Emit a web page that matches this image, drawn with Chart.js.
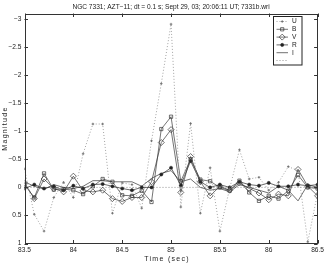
<!DOCTYPE html>
<html><head><meta charset="utf-8">
<script src="https://cdn.jsdelivr.net/npm/chart.js@4.4.1/dist/chart.umd.min.js"></script>
<style>html,body{margin:0;padding:0;background:#fff}canvas{display:block}</style>
</head><body>
<canvas id="c" width="327" height="263"></canvas>
<script>
const titleText = 'NGC 7331; AZT\u221211; dt = 0.1 s; Sept 29, 03; 20:06:11 UT; 7331b.wri';
const xTitle = 'Time (sec)';
const yTitle = 'Magnitude';
const times = [83.5,83.6,83.7,83.8,83.9,84.0,84.1,84.2,84.3,84.4,84.5,84.6,84.7,84.8,84.9,85.0,85.1,85.2,85.3,85.4,85.5,85.6,85.7,85.8,85.9,86.0,86.1,86.2,86.3,86.4,86.5];
const U = [-0.33,0.48,0.78,0.18,-0.09,0.18,-0.6,-1.13,-1.13,0.46,-0.08,-0.05,0.37,-0.83,-1.85,-2.91,0.35,-1.14,0.46,-0.35,0.78,0.02,-0.67,-0.15,-0.18,0.05,-0.09,-0.37,-0.3,0.97,0.1];
const B = [-0.05,0.18,-0.25,0.04,0.03,0.05,0.12,-0.02,-0.15,-0.1,0.14,0.15,0.06,0.26,-1.04,-1.26,-0.11,-0.5,-0.14,-0.11,0.0,0.06,-0.12,0.09,0.24,0.15,0.2,0.06,-0.22,0.0,0.02];
const V = [-0.08,0.2,-0.15,0.02,0.08,-0.2,0.06,0.08,0.05,0.2,0.25,0.18,0.18,-0.1,-0.8,-1.03,0.09,-0.55,-0.1,0.15,-0.02,0.05,-0.08,0.02,0.1,0.22,0.12,0.15,-0.32,-0.02,0.15];
const R = [0.02,-0.05,0.02,-0.02,0.05,-0.03,0.02,-0.05,-0.06,-0.02,0.02,0.05,0.0,0.0,-0.23,-0.35,-0.04,-0.47,-0.1,0.0,-0.05,0.0,-0.1,-0.05,-0.03,-0.08,-0.02,-0.02,-0.05,-0.03,-0.05];
const I = [-0.1,-0.02,0.03,-0.05,0.0,0.02,-0.02,-0.12,-0.12,-0.1,-0.1,-0.1,-0.02,-0.16,-0.25,-0.3,-0.1,-0.15,0.0,0.05,0.02,0.08,-0.05,0.0,0.05,0.1,-0.02,0.05,0.24,-0.05,0.0];
const baselineX = [83.5, 86.5];
const baselineY = [0, 0];
const seriesNames = ['U','B','V','R','I',''];
const xTicks = [83.5,84,84.5,85,85.5,86,86.5];
const yTicks = [-3,-2.5,-2,-1.5,-1,-0.5,0,0.5,1];

const FONT = '"Liberation Sans", Arial, Helvetica, sans-serif';
const pts = arr => times.map((t,i)=>({x:t,y:arr[i]}));
const fmt = v => (v<0 ? '\u2212' : '') + String(Math.abs(v));

const datasets = [
  {label:seriesNames[0], data:pts(U), borderColor:'#999', borderWidth:0.9, borderDash:[1,2], pointStyle:'cross', pointRadius:1.3, pointBorderColor:'#666', pointBorderWidth:0.8, pointBackgroundColor:'#666'},
  {label:seriesNames[1], data:pts(B), borderColor:'#3a3a3a', borderWidth:0.7, pointStyle:'rect', pointRadius:2.3, pointBorderColor:'#333', pointBorderWidth:0.7, pointBackgroundColor:'rgba(0,0,0,0)'},
  {label:seriesNames[2], data:pts(V), borderColor:'#3a3a3a', borderWidth:0.7, pointStyle:'rectRot', pointRadius:3, pointBorderColor:'#333', pointBorderWidth:0.7, pointBackgroundColor:'rgba(0,0,0,0)'},
  {label:seriesNames[3], data:pts(R), borderColor:'#2a2a2a', borderWidth:0.7, pointStyle:'circle', pointRadius:1.6, pointBorderColor:'#222', pointBorderWidth:0.5, pointBackgroundColor:'#222'},
  {label:seriesNames[4], data:pts(I), borderColor:'#333', borderWidth:0.7, pointRadius:0},
  {label:seriesNames[5], data:baselineX.map((x,i)=>({x:x,y:baselineY[i]})), borderColor:'#888', borderWidth:0.9, borderDash:[1,2], pointRadius:0}
];

const decor = {
  id:'decor',
  afterDatasetsDraw(chart){
    const {ctx, chartArea:a, scales:{x,y}} = chart;
    ctx.save();
    ctx.strokeStyle = '#333'; ctx.lineWidth = 1; ctx.setLineDash([]);
    ctx.strokeRect(Math.round(a.left)+0.5, Math.round(a.top)+0.5, Math.round(a.right-a.left)-1, Math.round(a.bottom-a.top)-1);
    ctx.beginPath();
    const tl = 3.5;
    xTicks.forEach(v=>{ const px = Math.round(x.getPixelForValue(v))+0.5;
      ctx.moveTo(px,a.bottom); ctx.lineTo(px,a.bottom-tl); ctx.moveTo(px,a.top); ctx.lineTo(px,a.top+tl); });
    yTicks.forEach(v=>{ const py = Math.round(y.getPixelForValue(v))+0.5;
      ctx.moveTo(a.left,py); ctx.lineTo(a.left+tl,py); ctx.moveTo(a.right,py); ctx.lineTo(a.right-tl,py); });
    ctx.stroke();
    ctx.restore();
  },
  afterDraw(chart){
    const {ctx, chartArea:a} = chart;
    ctx.save();
    ctx.fillStyle = '#222';
    ctx.font = '6.6px ' + FONT;
    ctx.textAlign = 'center'; ctx.textBaseline = 'middle';
    ctx.fillText(titleText, (a.left+a.right)/2, 7);
    ctx.font = '7px ' + FONT;
    try { ctx.letterSpacing = '1.3px'; } catch(e) {}
    ctx.fillText(xTitle, (a.left+a.right)/2 - 4, 259);
    ctx.translate(5.5, (a.top+a.bottom)/2);
    ctx.rotate(-Math.PI/2);
    ctx.fillText(yTitle, 0, 0);
    ctx.restore();
    // legend
    ctx.save();
    const bx = 273.5, by = 16.5, bw = 28.5, bh = 48.5;
    ctx.fillStyle = '#fff'; ctx.fillRect(bx, by, bw, bh);
    ctx.strokeStyle = '#222'; ctx.lineWidth = 1;
    ctx.strokeRect(bx, by, bw, bh);
    const rowH = 7.8;
    chart.data.datasets.forEach((ds,i)=>{
      const yy = by + 5 + i*rowH;
      ctx.strokeStyle = ds.borderColor; ctx.lineWidth = ds.borderWidth;
      ctx.setLineDash(ds.borderDash || []);
      ctx.beginPath(); ctx.moveTo(276.5, yy); ctx.lineTo(288, yy); ctx.stroke();
      ctx.setLineDash([]);
      if (ds.pointRadius > 0) {
        ctx.fillStyle = ds.pointBackgroundColor; ctx.strokeStyle = ds.pointBorderColor; ctx.lineWidth = ds.pointBorderWidth;
        Chart.helpers.drawPoint(ctx, {pointStyle: ds.pointStyle, radius: ds.pointRadius, borderWidth: ds.pointBorderWidth, rotation:0}, 282.2, yy);
      }
      ctx.fillStyle = '#222'; ctx.font = '6.6px ' + FONT;
      ctx.textAlign = 'left'; ctx.textBaseline = 'middle';
      ctx.fillText(ds.label, 292, yy);
    });
    ctx.restore();
  }
};

new Chart(document.getElementById('c'), {
  type:'line',
  data:{datasets:datasets},
  options:{
    responsive:false, animation:false, devicePixelRatio:1,
    layout:{padding:{top:13.5, right:8.5, left:0, bottom:0}},
    plugins:{legend:{display:false}, tooltip:{enabled:false}, title:{display:false}},
    elements:{line:{tension:0}},
    scales:{
      x:{type:'linear', min:83.5, max:86.5,
         afterBuildTicks:s=>{s.ticks = xTicks.map(v=>({value:v}));},
         afterFit:s=>{s.height = 19.5;},
         grid:{display:false, drawTicks:false}, border:{display:false},
         ticks:{font:{size:6.6, family:FONT}, color:'#222', padding:3, maxRotation:0, autoSkip:false, callback:v=>fmt(v)}},
      y:{type:'linear', reverse:true, min:-3.1, max:1,
         afterBuildTicks:s=>{s.ticks = yTicks.map(v=>({value:v}));},
         afterFit:s=>{s.width = 24.5;},
         grid:{display:false, drawTicks:false}, border:{display:false},
         ticks:{font:{size:6.6, family:FONT}, color:'#222', padding:3, autoSkip:false, callback:v=>fmt(v)}}
    }
  },
  plugins:[decor]
});
</script>
</body></html>
